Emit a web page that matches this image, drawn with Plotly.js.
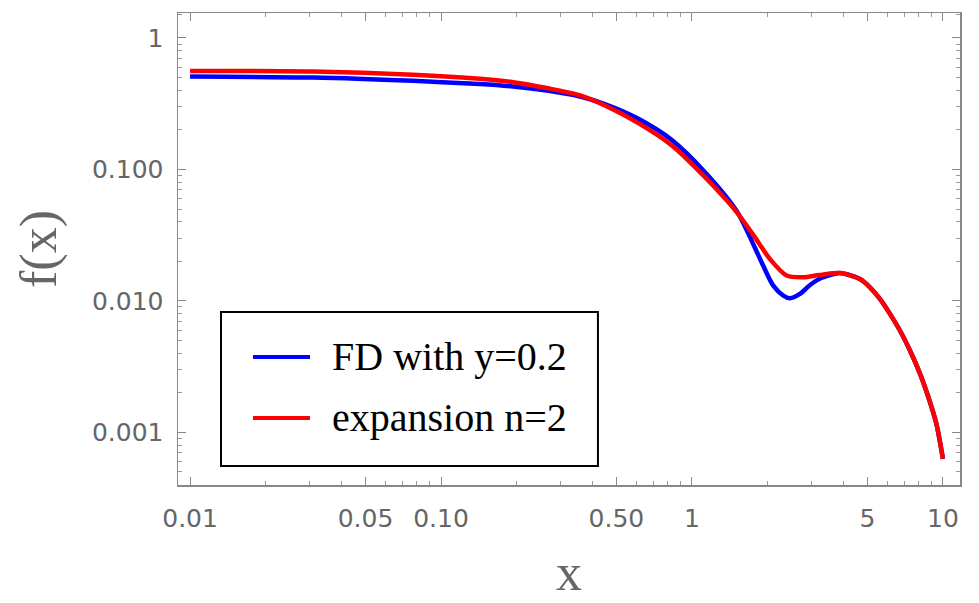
<!DOCTYPE html>
<html><head><meta charset="utf-8">
<script src="https://cdn.plot.ly/plotly-3.0.1.min.js"></script>
<style>html,body{margin:0;padding:0;background:#fff}#chart{width:979px;height:603px}</style>
</head><body><div id="chart"></div>
<script>
// Blue: FD with y=0.2
const xFD = [0.01, 0.0309, 0.0773, 0.1429, 0.1937, 0.2637, 0.358, 0.4523, 0.6115, 0.8266, 1.1175, 1.507, 1.755, 1.923, 2.109, 2.312, 2.456, 2.692, 2.93, 3.212, 3.546, 3.887, 4.67, 5.119, 5.61, 6.15, 6.74, 7.39, 8.10, 8.87, 9.44, 10];
const yFD = [0.509, 0.500, 0.472, 0.446, 0.427, 0.398, 0.359, 0.313, 0.243, 0.169, 0.097, 0.0483, 0.0270, 0.0185, 0.01306, 0.01096, 0.01048, 0.0113, 0.01306, 0.01468, 0.0157, 0.0163, 0.01468, 0.0127, 0.01035, 0.00797, 0.00596, 0.0042, 0.0028, 0.00171, 0.00114, 0.00063];
// Red: expansion n=2
const xExp = [0.01, 0.0309, 0.0773, 0.1429, 0.1937, 0.2637, 0.358, 0.4523, 0.6115, 0.8266, 1.1175, 1.507, 1.755, 2.046, 2.384, 2.776, 3.212, 3.887, 4.67, 5.119, 5.61, 6.15, 6.74, 7.39, 8.10, 8.87, 9.44, 10];
const yExp = [0.562, 0.556, 0.525, 0.489, 0.461, 0.416, 0.366, 0.305, 0.225, 0.1535, 0.0887, 0.0474, 0.0318, 0.0208, 0.0156, 0.01513, 0.01574, 0.0163, 0.01468, 0.0127, 0.01035, 0.00797, 0.00596, 0.0042, 0.0028, 0.00171, 0.00114, 0.00063];
const seriesNames = ['FD with y=0.2', 'expansion n=2'];
const seriesColors = ['#0000ff', '#ff0000'];
const xTickVals = [0.01, 0.05, 0.1, 0.5, 1, 5, 10];
const xTickText = ['0.01', '0.05', '0.10', '0.50', '1', '5', '10'];
const yTickVals = [0.001, 0.01, 0.1, 1];
const yTickText = ['0.001', '0.010', '0.100', '1'];
const xMinor = [0.02,0.03,0.04,0.06,0.07,0.08,0.09,0.2,0.3,0.4,0.6,0.7,0.8,0.9,2,3,4,6,7,8,9];
const yMinor = [0.0005,0.0006,0.0007,0.0008,0.0009,0.002,0.003,0.004,0.005,0.006,0.007,0.008,0.009,0.02,0.03,0.04,0.05,0.06,0.07,0.08,0.09,0.2,0.3,0.4,0.5,0.6,0.7,0.8,0.9,1.5];

const traces = [
  {x: xFD, y: yFD, name: seriesNames[0], mode: 'lines', line: {color: seriesColors[0], width: 4.5, shape: 'spline', smoothing: 0.8}},
  {x: xExp, y: yExp, name: seriesNames[1], mode: 'lines', line: {color: seriesColors[1], width: 4.5, shape: 'spline', smoothing: 0.8}}
];

const axisCommon = {
  type: 'log', showgrid: false, zeroline: false,
  showline: true, linecolor: '#888', linewidth: 1.5, mirror: 'ticks',
  ticks: 'inside', ticklen: 8, tickcolor: '#888', tickwidth: 1,
  tickfont: {family: 'DejaVu Sans, sans-serif', size: 25, color: '#666'},
  tickmode: 'array'
};

const layout = {
  width: 979, height: 603,
  margin: {l: 178, r: 19, t: 13, b: 118},
  paper_bgcolor: '#fff', plot_bgcolor: '#fff',
  showlegend: false,
  xaxis: Object.assign({}, axisCommon, {
    range: [-2.048, 1.068], tickvals: xTickVals, ticktext: xTickText,
    ticklabelstandoff: 10,
    minor: {tickvals: xMinor, ticks: 'inside', ticklen: 4, tickcolor: '#999'},
    title: {text: 'x', font: {family: 'Liberation Serif, Times New Roman, serif', size: 52, color: '#666'}, standoff: 22}
  }),
  yaxis: Object.assign({}, axisCommon, {
    range: [-3.40, 0.19], tickvals: yTickVals, ticktext: yTickText,
    ticklabelstandoff: 8,
    minor: {tickvals: yMinor, ticks: 'inside', ticklen: 4, tickcolor: '#999'},
    title: {text: 'f(x)', font: {family: 'Liberation Serif, Times New Roman, serif', size: 52, color: '#666'}, standoff: 18}
  }),
  shapes: [
    {type: 'rect', xref: 'paper', yref: 'paper', x0: 0.055, x1: 0.537, y0: 0.0403, y1: 0.3665, line: {color: '#000', width: 2}, fillcolor: '#fff'},
    {type: 'line', xref: 'paper', yref: 'paper', x0: 0.0959, x1: 0.1688, y0: 0.2712, y1: 0.2712, line: {color: seriesColors[0], width: 4}},
    {type: 'line', xref: 'paper', yref: 'paper', x0: 0.0959, x1: 0.1688, y0: 0.142, y1: 0.142, line: {color: seriesColors[1], width: 4}}
  ],
  annotations: [
    {xref: 'paper', yref: 'paper', x: 0.1944, y: 0.2712, xanchor: 'left', yanchor: 'middle', showarrow: false, text: seriesNames[0], font: {family: 'Liberation Serif, Times New Roman, serif', size: 40, color: '#000'}},
    {xref: 'paper', yref: 'paper', x: 0.1944, y: 0.142, xanchor: 'left', yanchor: 'middle', showarrow: false, text: seriesNames[1], font: {family: 'Liberation Serif, Times New Roman, serif', size: 40, color: '#000'}}
  ]
};

Plotly.newPlot('chart', traces, layout, {displayModeBar: false, staticPlot: true});
</script>
</body></html>
